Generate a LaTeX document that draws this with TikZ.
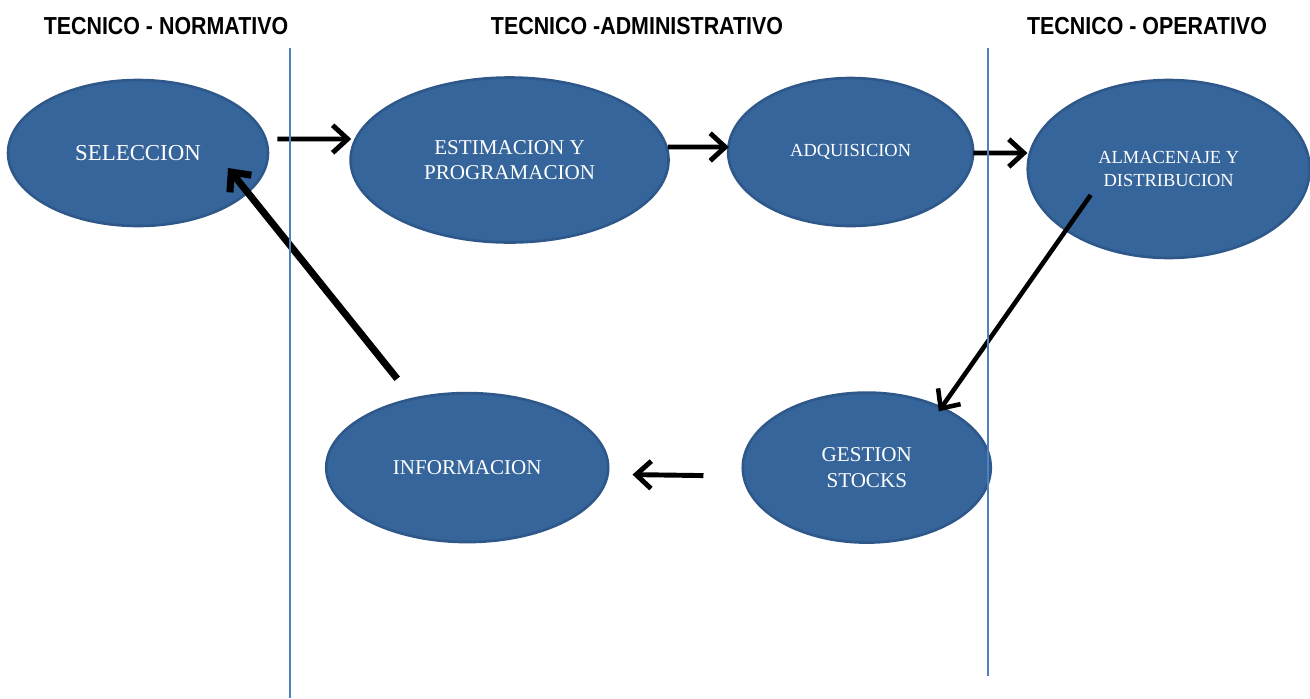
\documentclass[tikz,border=0pt]{standalone}
\usepackage{fontspec}
\setmainfont{Liberation Serif}
\newfontfamily\headfont{Liberation Sans}[FakeStretch=0.87]
\usetikzlibrary{positioning,shapes.geometric,arrows.meta}
\definecolor{stageblue}{RGB}{53,101,154}
\definecolor{stageedge}{RGB}{47,88,138}
\definecolor{laneline}{RGB}{79,129,189}
\tikzset{
  stage/.style={ellipse, fill=stageblue, draw=stageedge, line width=1.5pt,
    inner sep=0pt, text=white, align=center},
  lane/.style={font=\headfont\bfseries\fontsize{14}{16}\selectfont},
  flow/.style={line width=2.8pt, -{Straight Barb[length=3mm,width=5.5mm]}},
  divider/.style={draw=laneline, line width=0.8pt}
}

\begin{document}
\begin{tikzpicture}[x=0.02cm,y=0.02cm]
\useasboundingbox (0,0) rectangle (1310,-698);

% define nodes

% upper row
\node[stage, minimum width=5.2cm, minimum height=2.92cm, font=\fontsize{13}{15}\selectfont] (sel) at (138,-153) {SELECCION};
\node[stage, right=1.6cm of sel, yshift=-0.14cm, minimum width=6.36cm, minimum height=3.3cm, font=\fontsize{12}{14.2}\selectfont] (est) {ESTIMACION Y\\PROGRAMACION};
\node[stage, right=1.14cm of est, yshift=0.16cm, minimum width=4.9cm, minimum height=2.96cm, font=\fontsize{10.5}{12.5}\selectfont] (adq) {ADQUISICION};
\node[stage, right=1.04cm of adq, yshift=-0.34cm, minimum width=5.64cm, minimum height=3.56cm, font=\fontsize{10.5}{13}\selectfont] (alm) {ALMACENAJE Y\\DISTRIBUCION};
% lower row
\node[stage, below=2.64cm of alm, xshift=-6.04cm, minimum width=4.96cm, minimum height=3cm, font=\fontsize{12}{14.5}\selectfont] (gest) {GESTION\\STOCKS};
\node[stage, left=2.64cm of gest, minimum width=5.64cm, minimum height=2.98cm, font=\fontsize{12}{14}\selectfont] (info) {INFORMACION};
% lanes
\node[lane] (norm) at (166,-26) {TECNICO - NORMATIVO};
\node[lane] (admin) at (637,-26) {TECNICO -ADMINISTRATIVO};
\node[lane] (oper) at (1147,-26) {TECNICO - OPERATIVO};

\coordinate (d1top) at (290,-48);
\coordinate (d1bot) at (290,-698);
\coordinate (d2top) at (988,-48);
\coordinate (d2bot) at (988,-676);

% edges

\draw[flow] ([shift={(8,14)}]sel.east) -- ([shift={(2,21)}]est.west);
\draw[flow] ([shift={(-2,13)}]est.east) -- ([shift={(2,5)}]adq.west);
\draw[flow] ([shift={(-1,-1)}]adq.east) -- ([shift={(1,16)}]alm.west);
\draw[flow, line width=2.6pt] ([shift={(-78,-26)}]alm.center) -- ([shift={(72,-20)}]gest.north);
\draw[flow] ([shift={(-38,-8)}]gest.west) -- ([shift={(23,-7)}]info.east);
\draw[flow, line width=4pt] ([shift={(-70,13)}]info.north) -- ([shift={(90,-15)}]sel.center);

% dividers

\draw[divider] (d1top) -- (d1bot);
\draw[divider] (d2top) -- (d2bot);

\end{tikzpicture}
\end{document}
